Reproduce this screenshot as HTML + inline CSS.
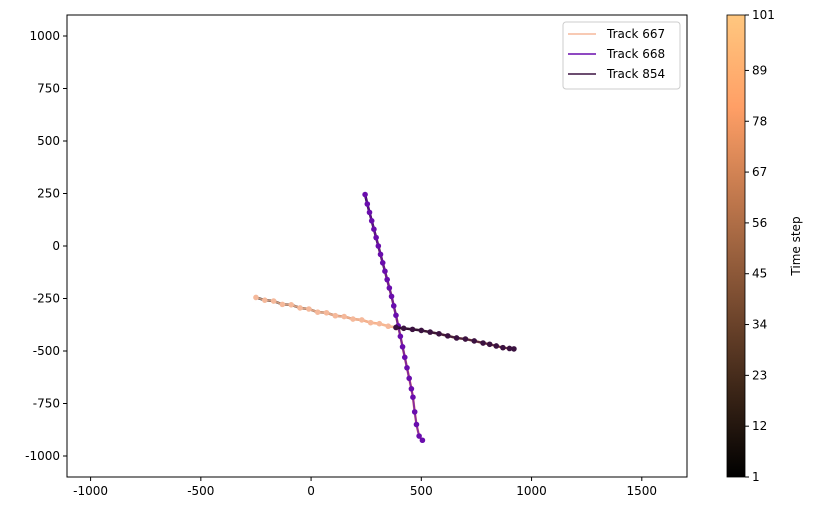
<!DOCTYPE html>
<html><head><meta charset="utf-8"><style>
body{margin:0;background:#fff;font-family:"Liberation Sans","DejaVu Sans",sans-serif}
svg text{font-family:"DejaVu Sans","Liberation Sans",sans-serif;font-size:12px;fill:#000}
</style></head><body>
<svg id="c" width="814" height="511"></svg>
<script>
const xTicks=[-1000,-500,0,500,1000,1500];
const yTicks=[1000,750,500,250,0,-250,-500,-750,-1000];
const cbTicks=[1,12,23,34,45,56,67,78,89,101];
const trackNames=["Track 667","Track 668","Track 854"];
const trackColors=["#f5b99b","#6a0dad","#3b1240"];
const t667x=[-250,-210,-170,-130,-90,-50,-10,30,70,110,150,190,230,270,310,350,390];
const t667y=[-245,-258,-262,-278,-280,-295,-300,-315,-318,-332,-336,-348,-352,-365,-370,-382,-388];
const t668x=[245,255,265,275,285,295,305,315,325,335,345,355,365,375,385,395,405,415,425,435,445,455,462,470,478,490,505];
const t668y=[245,200,160,120,80,40,0,-40,-80,-120,-160,-200,-240,-285,-330,-380,-430,-480,-530,-580,-630,-680,-720,-790,-850,-905,-925];
const t854x=[385,420,460,500,540,580,620,660,700,740,780,810,840,870,900,920];
const t854y=[-388,-392,-397,-402,-410,-418,-428,-438,-443,-452,-462,-468,-476,-484,-488,-490];
const tracksX=[t667x,t668x,t854x], tracksY=[t667y,t668y,t854y];

const L=67,R=687,T=15,B=477;
const xMin=-1107,xMax=1705,yMin=-1100,yMax=1100;
const sx=v=>L+(v-xMin)/(xMax-xMin)*(R-L);
const sy=v=>B-(v-yMin)/(yMax-yMin)*(B-T);
const svg=document.getElementById('c');
const NS="http://www.w3.org/2000/svg";
function mk(tag,a,parent){const e=document.createElementNS(NS,tag);for(const k in a)e.setAttribute(k,a[k]);(parent||svg).appendChild(e);return e;}
function copper(f){return `rgb(${Math.round(255*Math.min(1,1.25*f))},${Math.round(199*f)},${Math.round(127*f)})`;}

let r=mk('rect',{x:L,y:T,width:R-L,height:B-T,fill:'#fff',stroke:'#000','stroke-width':1});


xTicks.forEach(v=>{const x=sx(v);
 let l=mk('line',{x1:x,x2:x,y1:B,y2:B+4,stroke:'#000'});
 
 
 let t=mk('text',{x:x,y:B+18,'text-anchor':'middle'});t.textContent=v;
 
 });
yTicks.forEach(v=>{const y=sy(v);
 let l=mk('line',{x1:L-4,x2:L,y1:y,y2:y,stroke:'#000'});
 
 
 let t=mk('text',{x:L-7,y:y+4,'text-anchor':'end'});t.textContent=v;
 
 });

tracksX.forEach((xs,i)=>{
 const g=mk('g',{});
 
 
 for(let k=0;k<xs.length-1;k++){
  mk('line',{x1:sx(xs[k]),y1:sy(tracksY[i][k]),x2:sx(xs[k+1]),y2:sy(tracksY[i][k+1]),stroke:copper(k/(xs.length-1)),'stroke-width':2.5},g);
 }
 mk('polyline',{points:xs.map((x,k)=>sx(x)+','+sy(tracksY[i][k])).join(' '),fill:'none',stroke:trackColors[i],'stroke-width':2,'stroke-opacity':0.8},g);
 xs.forEach((x,k)=>{
  const c=mk('circle',{cx:sx(x),cy:sy(tracksY[i][k]),r:2.8,fill:trackColors[i]},g);
  
  
 });
});

const lg=mk('g',{});


mk('rect',{x:563,y:22,width:117,height:67,rx:3,fill:'#fff',stroke:'#ccc'},lg);
trackNames.forEach((n,i)=>{const y=34+i*20;
 mk('line',{x1:568,x2:596,y1:y,y2:y,stroke:trackColors[i],'stroke-width':1.5},lg);
 const t=mk('text',{x:607,y:y+4},lg);t.textContent=n;
 
 });

const defs=mk('defs',{});
const gr=mk('linearGradient',{id:'cp',x1:0,y1:1,x2:0,y2:0},defs);
for(let s=0;s<=10;s++)mk('stop',{offset:s/10,'stop-color':copper(s/10)},gr);
const CL=727,CR=745;
const cb=mk('rect',{x:CL,y:T,width:CR-CL,height:B-T,fill:'url(#cp)',stroke:'#000','stroke-width':0.8});


cbTicks.forEach(v=>{const y=B-(v-1)/100*(B-T);
 mk('line',{x1:CR,x2:CR+4,y1:y,y2:y,stroke:'#000'});
 const t=mk('text',{x:CR+7,y:y+4});t.textContent=v;
 
 });
const ct=mk('text',{x:800,y:246,'text-anchor':'middle',transform:'rotate(-90 800 246)'});ct.textContent='Time step';


</script>
</body></html>
